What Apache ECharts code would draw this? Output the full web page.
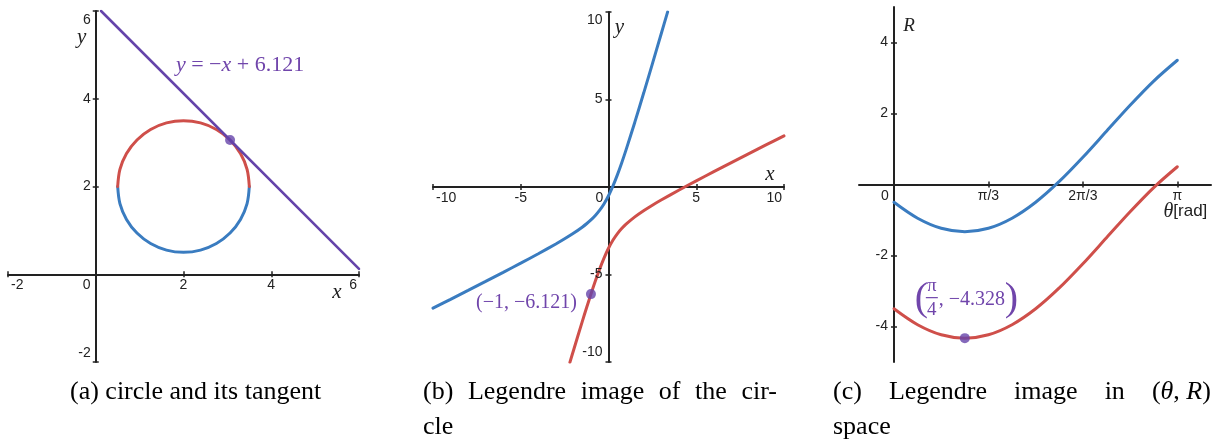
<!DOCTYPE html>
<html>
<head>
<meta charset="utf-8">
<script src="https://cdn.jsdelivr.net/npm/echarts@6/dist/echarts.min.js"></script>
<style>
  html, body { margin: 0; padding: 0; background: #ffffff; }
  #chart { width: 1217px; height: 445px; }
</style>
</head>
<body>
<div id="chart"></div>
<script>
// ---------- (a) circle (centre (2,2), radius 1.5) and its tangent ----------
const circleUpper = [
  [3.5, 2], [3.449, 2.388], [3.299, 2.75], [3.061, 3.061], [2.75, 3.299], [2.388, 3.449], [2, 3.5],
  [1.612, 3.449], [1.25, 3.299], [0.939, 3.061], [0.701, 2.75], [0.551, 2.388], [0.5, 2]
];
const circleLower = [
  [3.5, 2], [3.449, 1.612], [3.299, 1.25], [3.061, 0.939], [2.75, 0.701], [2.388, 0.551], [2, 0.5],
  [1.612, 0.551], [1.25, 0.701], [0.939, 0.939], [0.701, 1.25], [0.551, 1.612], [0.5, 2]
];
const tangentLine = [[0.121, 6], [6, 0.121]];
const tangentPoint = [[3.061, 3.061]];
const aTicks = [-2, 0, 2, 4, 6];

// ---------- (b) Legendre image of the circle ----------
const imageLower = [
  [-10, -6.925], [-9, -6.417], [-8, -5.907], [-7, -5.393], [-6, -4.876], [-5, -4.351], [-4, -3.815],
  [-3, -3.257], [-2.5, -2.961], [-2, -2.646], [-1.5, -2.296], [-1.25, -2.099], [-1, -1.879],
  [-0.75, -1.625], [-0.5, -1.323], [-0.25, -0.954], [0, -0.5], [0.25, 0.046], [0.5, 0.677],
  [0.75, 1.375], [1, 2.121], [1.5, 3.704], [2, 5.354], [2.5, 7.039], [3, 8.743], [3.37, 10.01]
];
const imageUpper = [
  [-2.2, -10.025], [-2, -9.354], [-1.5, -7.704], [-1.25, -6.901], [-1, -6.121], [-0.75, -5.375],
  [-0.5, -4.677], [-0.25, -4.046], [0, -3.5], [0.25, -3.046], [0.5, -2.677], [0.75, -2.375],
  [1, -2.121], [1.5, -1.704], [2, -1.354], [2.5, -1.039], [3, -0.743], [4, -0.185], [5, 0.351],
  [6, 0.876], [7, 1.393], [8, 1.907], [9, 2.417], [10, 2.925]
];
const imagePoint = [[-1, -6.121]];
const bTicks = [-10, -5, 0, 5, 10];

// ---------- (c) Legendre image in (theta, R) space ----------
const thetaValues = [0, 0.2618, 0.5236, 0.7854, 1.0472, 1.309, 1.5708, 1.8326, 2.0944, 2.3562, 2.618, 2.8798, 3.1416];
const rLower = [-0.5, -0.949, -1.232, -1.328, -1.232, -0.949, -0.5, 0.086, 0.768, 1.5, 2.232, 2.914, 3.5];
const rUpper = [-3.5, -3.949, -4.232, -4.328, -4.232, -3.949, -3.5, -2.914, -2.232, -1.5, -0.768, -0.086, 0.5];
const minPoint = [[0.7854, -4.328]];
const thetaTicks = [0, Math.PI / 3, 2 * Math.PI / 3, Math.PI];
const thetaTickLabels = ['0', 'π/3', '2π/3', 'π'];
const rTicks = [-4, -2, 2, 4];

// ---------- captions ----------
const captionA = '(a) circle and its tangent';
const captionB = [['(b)', 'Legendre', 'image', 'of', 'the', 'cir-'], 'cle'];
const captionC = [['(c)', 'Legendre', 'image', 'in', '(θ, R)'], 'space'];

// ---------- styling ----------
const AX = '#222222';
const BLUE = '#3a7cc0';
const RED = '#cf4f4a';
const PURPLE = '#6544aa';
const MATH_PURPLE = '#7045ab';
const SANS = '"Liberation Sans", Arial, sans-serif';
const SERIF = '"Liberation Serif", "Times New Roman", serif';

function axisBase(gridIndex, min, max, extra, inside, tickValues) {
  const tick = { show: true, inside, length: 3, lineStyle: { color: AX, width: 1.5 } };
  if (tickValues) tick.customValues = tickValues;
  return Object.assign({
    type: 'value', gridIndex, min, max,
    axisLine: { onZero: true, lineStyle: { color: AX, width: 2, opacity: inside ? 0 : 1 } },
    axisTick: tick,
    axisLabel: { show: false },
    splitLine: { show: false }
  }, extra);
}
// each grid gets a visible axis with outward ticks and a companion axis carrying the inward half
function axisPair(gridIndex, min, max, extra, tickValues) {
  return [axisBase(gridIndex, min, max, extra, false, tickValues), axisBase(gridIndex, min, max, extra, true, tickValues)];
}

const xAxis = [].concat(
  axisPair(0, -2, 6, { interval: 2, position: 'bottom' }),
  axisPair(1, -10, 10, { interval: 5, position: 'bottom' }),
  axisPair(2, -0.388, 3.515, { position: 'bottom' }, thetaTicks.slice(1))
);
const yAxis = [].concat(
  axisPair(0, -2, 6, { interval: 2, position: 'left' }),
  axisPair(1, -10, 10, { interval: 5, position: 'left' }),
  axisPair(2, -5, 5, { position: 'left' }, rTicks)
);

function curve(xi, yi, data, color, width, smooth) {
  return {
    type: 'line', xAxisIndex: xi, yAxisIndex: yi, data,
    smooth: smooth, showSymbol: false, symbol: 'none', silent: true,
    lineStyle: { color, width, cap: 'round' }, clip: true
  };
}
function dot(xi, yi, data) {
  return {
    type: 'scatter', xAxisIndex: xi, yAxisIndex: yi, data, symbolSize: 10, silent: true,
    itemStyle: { color: PURPLE }, z: 5
  };
}

const option = {
  animation: false,
  backgroundColor: '#ffffff',
  grid: [
    { left: 8, top: 11, width: 351, height: 351 },
    { left: 433, top: 12, width: 351, height: 350 },
    { left: 859, top: 7, width: 352, height: 355 }
  ],
  xAxis, yAxis,
  series: [
    curve(0, 0, circleLower, BLUE, 3, 0.33),
    curve(0, 0, circleUpper, RED, 3, 0.33),
    curve(0, 0, tangentLine, PURPLE, 2.6, false),
    dot(0, 0, tangentPoint),
    curve(2, 2, imageLower, BLUE, 3, 0.3),
    curve(2, 2, imageUpper, RED, 3, 0.3),
    dot(2, 2, imagePoint),
    curve(4, 4, thetaValues.map((t, i) => [t, rLower[i]]), BLUE, 3, 0.33),
    curve(4, 4, thetaValues.map((t, i) => [t, rUpper[i]]), RED, 3, 0.33),
    dot(4, 4, minPoint)
  ]
};

const chart = echarts.init(document.getElementById('chart'), null, { renderer: 'canvas' });
chart.setOption(option);

// ---------- text anchored to data coordinates ----------
const px = (g, pt) => chart.convertToPixel({ xAxisIndex: 2 * g, yAxisIndex: 2 * g }, pt);
const richSet = (size, color) => ({
  i: { fontFamily: SERIF, fontStyle: 'italic', fontSize: size, fill: color },
  n: { fontFamily: SERIF, fontSize: size, fill: color },
  s: { fontFamily: SANS, fontSize: size - 3, fill: color }
});
function txt(p, dx, dy, text, size, color, align, family) {
  return {
    type: 'text', x: p[0] + dx, y: p[1] + dy, silent: true, z: 10,
    style: {
      text, fill: color, fontFamily: family || SERIF, fontSize: size,
      align: align || 'center', verticalAlign: 'middle',
      rich: richSet(size, color)
    }
  };
}
const tickText = (p, dx, dy, text, align) => txt(p, dx, dy, text, 14, AX, align, SANS);

const g = [];

// tick labels, (a)
aTicks.forEach((v, i) => {
  const last = i === aTicks.length - 1;
  const p = px(0, [v, 0]);
  if (v === 0) g.push(tickText(p, -9, 11, '0'));
  else if (i === 0) g.push(tickText(p, 3, 11, String(v), 'left'));
  else if (last) g.push(tickText(p, -2, 11, String(v), 'right'));
  else g.push(tickText(p, 0, 11, String(v)));
  if (v === 0) return;
  const q = px(0, [0, v]);
  g.push(tickText(q, -5, i === 0 ? -9 : last ? 9 : 0, String(v), 'right'));
});
// tick labels, (b)
bTicks.forEach((v, i) => {
  const last = i === bTicks.length - 1;
  const p = px(1, [v, 0]);
  if (v === 0) g.push(tickText(p, -9, 11.5, '0'));
  else if (i === 0) g.push(tickText(p, 3, 11.5, String(v), 'left'));
  else if (last) g.push(tickText(p, -2, 11.5, String(v), 'right'));
  else g.push(tickText(p, 0, 11.5, String(v)));
  if (v === 0) return;
  const q = px(1, [0, v]);
  g.push(tickText(q, -6, i === 0 ? -10 : last ? 8.5 : 0, String(v), 'right'));
});
// tick labels, (c)
thetaTicks.forEach((v, i) => {
  g.push(tickText(px(2, [v, 0]), v === 0 ? -9 : 0, 11.5, thetaTickLabels[i]));
});
rTicks.forEach(v => g.push(tickText(px(2, [0, v]), -6, 0, String(v), 'right')));

// axis names
g.push(txt(px(0, [0, 6]), -14, 26, '{i|y}', 21, AX));
g.push(txt(px(0, [6, 0]), -22, 18, '{i|x}', 21, AX));
g.push(txt(px(1, [10, 0]), -14, -13, '{i|x}', 21, AX));
g.push(txt(px(1, [0, 10]), 11, 15, '{i|y}', 21, AX));
g.push(txt(px(2, [0, 5]), 15, 19, '{i|R}', 19, AX));
g.push(txt(px(2, [Math.PI, 0]), 30, 27, '{i|θ}{s|[rad]}', 20, AX, 'right'));

// tangent line equation
const c = tangentLine[0];
const intercept = (c[0] + c[1]).toFixed(3);
g.push(txt(px(0, c), 139, 54,
  '{i|y}{n| = −}{i|x}{n| + ' + intercept + '}', 22, MATH_PURPLE));

// (-1, -6.121) next to its point
const ip = imagePoint[0];
g.push(txt(px(1, ip), -14, 9, '(−' + Math.abs(ip[0]) + ', −' + Math.abs(ip[1]).toFixed(3) + ')', 20, MATH_PURPLE, 'right'));

// (pi/4, -4.328) above the minimum
const mp = px(2, minPoint[0]);
g.push(txt(mp, -43.5, -38.5, '(', 40, MATH_PURPLE));
g.push(txt(mp, -33, -52, 'π', 19, MATH_PURPLE));
g.push({ type: 'line', silent: true, z: 10, shape: { x1: mp[0] - 39, y1: mp[1] - 40.5, x2: mp[0] - 27, y2: mp[1] - 40.5 },
  style: { stroke: MATH_PURPLE, lineWidth: 1.2 } });
g.push(txt(mp, -33, -28, '4', 19, MATH_PURPLE));
g.push(txt(mp, -26, -38, ', −' + Math.abs(minPoint[0][1]).toFixed(3), 20, MATH_PURPLE, 'left'));
g.push(txt(mp, 46.5, -38.5, ')', 40, MATH_PURPLE));

// captions
const CAP = 26;
const CAP_Y1 = 392, CAP_Y2 = 427;
const ctx = document.createElement('canvas').getContext('2d');
ctx.font = CAP + 'px ' + SERIF;
function justified(words, left, right, y) {
  const widths = words.map(w => ctx.measureText(w).width);
  const gap = (right - left - widths.reduce((a, b) => a + b, 0)) / (words.length - 1);
  let x = left;
  words.forEach((w, i) => {
    const t = w.indexOf('θ') >= 0 ? '{n|(}{i|θ}{n|, }{i|R}{n|)}' : w;
    g.push(txt([x, y], 0, 0, t, CAP, '#000', 'left'));
    x += widths[i] + gap;
  });
}
g.push(txt([70, CAP_Y1], 0, 0, captionA, CAP, '#000', 'left'));
justified(captionB[0], 423, 777, CAP_Y1);
g.push(txt([423, CAP_Y2], 0, 0, captionB[1], CAP, '#000', 'left'));
justified(captionC[0], 833, 1212, CAP_Y1);
g.push(txt([833, CAP_Y2], 0, 0, captionC[1], CAP, '#000', 'left'));

chart.setOption({ graphic: { elements: g } });
</script>
</body>
</html>
